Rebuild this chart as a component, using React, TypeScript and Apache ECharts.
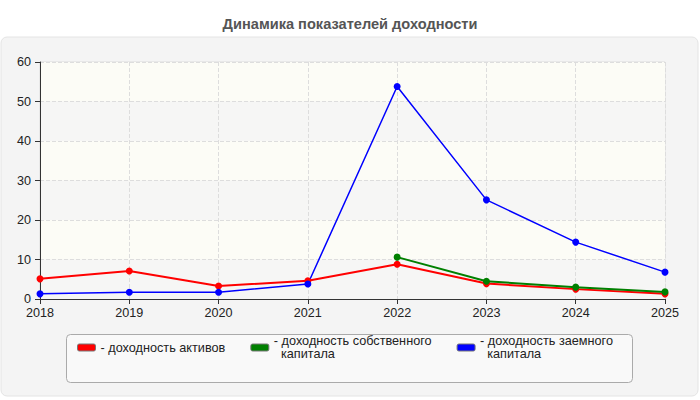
import { useEffect, useRef } from "react";
import * as echarts from "echarts";

const years = ["2018", "2019", "2020", "2021", "2022", "2023", "2024", "2025"];
const assetsReturn = [5.1, 7.1, 3.3, 4.6, 8.8, 3.9, 2.5, 1.3];
const equityReturn = [null, null, null, null, 10.6, 4.5, 3.0, 1.8];
const debtReturn = [1.3, 1.7, 1.7, 3.8, 53.8, 25.1, 14.4, 6.8];

const seriesNames = [
  "доходность активов",
  "доходность собственного капитала",
  "доходность заемного капитала",
];
// подписи легенды с переносом строки
const legendLabels = [
  "- доходность активов",
  "- доходность собственного\n\u00a0\u00a0капитала",
  "- доходность заемного\n\u00a0\u00a0капитала",
];
const seriesColors = ["#ff0000", "#008000", "#0000ff"];

const FONT = "Arial, 'Liberation Sans', sans-serif";

export default function App() {
  const chartRef = useRef<HTMLDivElement>(null);

  useEffect(() => {
    document.body.style.margin = "0";
    if (!chartRef.current) return;
    const chart = echarts.init(chartRef.current, undefined, { renderer: "svg" });

    const values = [assetsReturn, equityReturn, debtReturn];

    chart.setOption({
      animation: false,
      backgroundColor: "#ffffff",
      textStyle: { fontFamily: FONT },
      title: {
        text: "Динамика показателей доходности",
        left: "center",
        top: 11,
        textStyle: { color: "#555555", fontSize: 14.6, fontWeight: "bold", fontFamily: FONT },
      },
      graphic: [
        {
          type: "rect",
          shape: { x: 1, y: 37, width: 697, height: 359, r: 6 },
          style: { fill: "#f4f4f4", stroke: "#e4e4e4", lineWidth: 1 },
          z: -10,
        },
        {
          type: "rect",
          shape: { x: 66.5, y: 334.5, width: 566, height: 48, r: 4 },
          style: { fill: "#f9f9f9", stroke: "#aaaaaa", lineWidth: 1 },
          z: -5,
        },
      ],
      grid: {
        left: 40,
        right: 35,
        top: 62,
        bottom: 101,
        show: true,
        borderColor: "#dddddd",
        borderWidth: 1,
      },
      legend: {
        left: 77,
        top: 328,
        padding: 0,
        itemGap: 25,
        itemWidth: 18,
        itemHeight: 7,
        icon: "roundRect",
        itemStyle: { borderColor: "#777777", borderWidth: 1 },
        textStyle: { color: "#222222", fontSize: 12.7, lineHeight: 13, fontFamily: FONT },
        data: seriesNames.map((name, i) =>
          i === 0
            ? { name }
            : { name, textStyle: { padding: [13, 0, 0, 0] } },
        ),
        formatter: (name: string) => legendLabels[seriesNames.indexOf(name)],
      },
      xAxis: {
        type: "category",
        data: years,
        boundaryGap: false,
        axisLine: { show: true, lineStyle: { color: "#333333", width: 1 } },
        axisTick: { show: true, length: 5, lineStyle: { color: "#333333" } },
        axisLabel: { color: "#222222", fontSize: 12.6, margin: 7, fontFamily: FONT },
        splitLine: { show: true, lineStyle: { color: "#dddddd", type: "dashed" } },
      },
      yAxis: {
        type: "value",
        min: 0,
        max: 60,
        interval: 10,
        axisLine: { show: true, lineStyle: { color: "#333333", width: 1 } },
        axisTick: { show: true, length: 5, lineStyle: { color: "#333333" } },
        axisLabel: { color: "#222222", fontSize: 12.6, margin: 9, fontFamily: FONT },
        splitLine: { show: true, lineStyle: { color: "#dddddd", type: "dashed" } },
        splitArea: { show: true, areaStyle: { color: ["#f6f6f5", "#fcfcf6"] } },
      },
      series: seriesNames.map((name, i) => ({
        name,
        type: "line",
        data: values[i],
        symbol: "circle",
        symbolSize: 7,
        showSymbol: true,
        connectNulls: false,
        lineStyle: { color: seriesColors[i], width: i === 2 ? 1.5 : 2 },
        itemStyle: { color: seriesColors[i] },
      })),
    });

    return () => chart.dispose();
  }, []);

  return <div ref={chartRef} style={{ width: 700, height: 400 }} />;
}
